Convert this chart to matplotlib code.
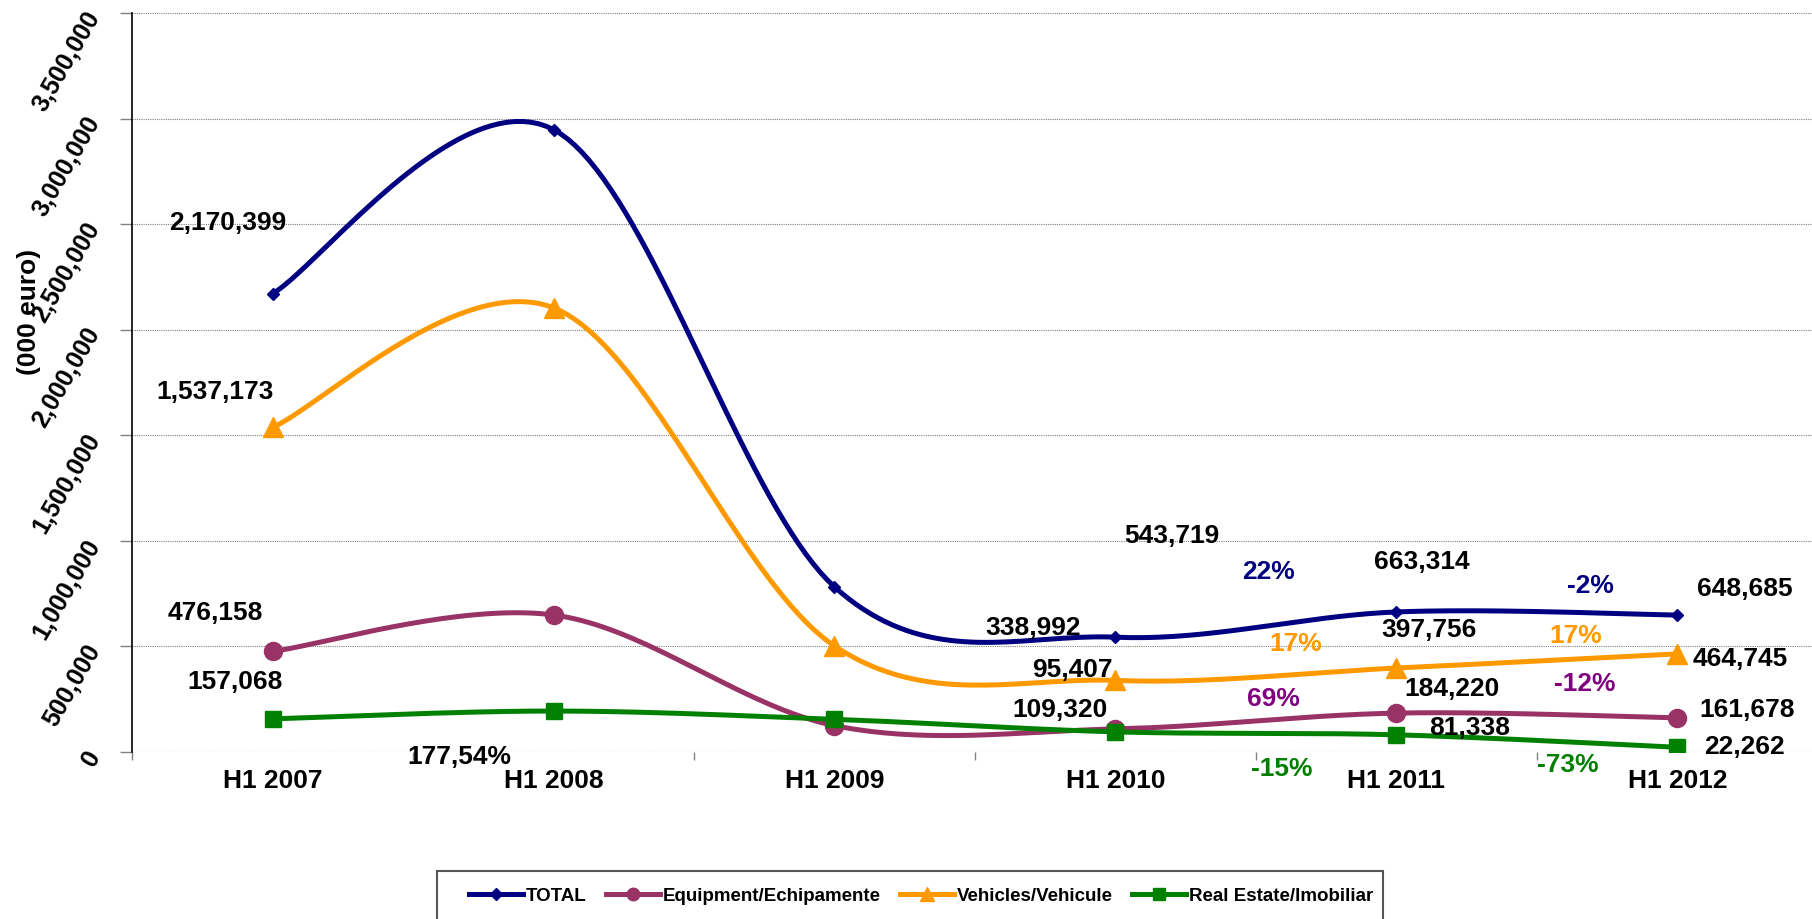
import numpy as np
import matplotlib
matplotlib.use('Agg')
import matplotlib.pyplot as plt
import matplotlib.patches as mpl_patches
from matplotlib.lines import Line2D
from matplotlib.ticker import FuncFormatter, FixedLocator

plt.rcParams['font.family'] = ['Liberation Sans', 'DejaVu Sans']
plt.rcParams['font.weight'] = 'bold'

# ---- data (H1 2008 / H1 2009 have no labels) ----
categories = ['H1 2007', 'H1 2008', 'H1 2009', 'H1 2010', 'H1 2011', 'H1 2012']
total = [2170399, 2948000, 782000, 543719, 663314, 648685]
equipment = [476158, 649000, 125000, 109320, 184220, 161678]
vehicles = [1537173, 2104000, 502000, 338992, 397756, 464745]
real_estate = [157068, 194000, 155000, 95407, 81338, 22262]
series_names = ['TOTAL', 'Equipment/Echipamente', 'Vehicles/Vehicule', 'Real Estate/Imobiliar']
y_ticks = [0, 500000, 1000000, 1500000, 2000000, 2500000, 3000000, 3500000]
labelled_idx = [0, 3, 4, 5]
pct_idx = [4, 5]
extra_note = '177,54%'
y_title = '(000 euro)'

# ---- styling ----
W, H = 1812, 919

SERIES_STYLING = [
    {'color': '#000080', 'marker': 'D', 'markersize': 6},
    {'color': '#993366', 'marker': 'o', 'markersize': 13},
    {'color': '#FF9900', 'marker': '^', 'markersize': 15},
    {'color': '#008000', 'marker': 's', 'markersize': 11},
]
LEGEND_MARKER_SIZE = [6, 9, 10, 9]
PCT_COLORS = ['#000080', '#800080', '#FF9900', '#008000']

LINE_WIDTH = 3.6

GRID_STYLING = {
    'color': '#808080',
    'linestyle': (0, (1, 1)),
    'linewidth': 0.8,
}

LABEL_FONT = {
    'fontsize': 19,
    'fontweight': 'bold',
    'ha': 'center',
    'va': 'center',
    'zorder': 10,
}

LEGEND_FONT = {'family': 'Liberation Sans', 'weight': 'bold', 'size': 13.5}

# legend box in pixels (bottom runs off the picture, as in the reference)
LEGEND_BOX = {'left': 437, 'right': 1383, 'top': 871}
LEGEND_TEXT_Y = 896
LEGEND_INSET = 32

# label centres in data units (category index, value), Excel placed them loosely
VALUE_LABEL_POS = [
    [(-0.16, 2.507e6), (3.199, 1.024e6), (4.089, 0.900e6), (5.238, 0.773e6)],
    [(-0.203, 0.659e6), (2.804, 0.199e6), (4.199, 0.299e6), (5.249, 0.199e6)],
    [(-0.203, 1.706e6), (2.705, 0.585e6), (4.114, 0.578e6), (5.224, 0.441e6)],
    [(-0.132, 0.332e6), (2.847, 0.389e6), (4.260, 0.114e6), (5.238, 0.024e6)],
]
PCT_LABEL_POS = [
    [(3.544, 0.853e6), (4.690, 0.787e6)],
    [(3.562, 0.251e6), (4.669, 0.322e6)],
    [(3.641, 0.512e6), (4.637, 0.550e6)],
    [(3.591, -0.081e6), (4.609, -0.062e6)],
]
NOTE_POS = (0.665, -0.024e6)


def smooth(xs, ys, n=40):
    # Excel-like smoothed line: cubic bezier with catmull-rom control points
    pts = np.column_stack([xs, ys]).astype(float)
    ext = np.vstack([pts[0], pts, pts[-1]])
    t = np.linspace(0, 1, n)[:, None]
    out = []
    for i in range(len(pts) - 1):
        p0, p1, p2, p3 = ext[i], ext[i + 1], ext[i + 2], ext[i + 3]
        c1 = p1 + (p2 - p0) / 6
        c2 = p2 - (p3 - p1) / 6
        seg = (1 - t) ** 3 * p1 + 3 * (1 - t) ** 2 * t * c1 + 3 * (1 - t) * t ** 2 * c2 + t ** 3 * p2
        out.append(seg if i == 0 else seg[1:])
    return np.vstack(out)


fig = plt.figure(figsize=(W / 100, H / 100), dpi=100)
fig.patch.set_facecolor('white')
ax = fig.add_axes([132 / W, 167 / H, 1686 / W, 739 / H])

all_series = [total, equipment, vehicles, real_estate]
x = np.arange(len(categories))

for k, (vals, style) in enumerate(zip(all_series, SERIES_STYLING)):
    curve = smooth(x, vals)
    ax.plot(curve[:, 0], curve[:, 1], color=style['color'], lw=LINE_WIDTH,
            solid_capstyle='round', zorder=3 + k)
    ax.plot(x, vals, linestyle='none', marker=style['marker'],
            markersize=style['markersize'], color=style['color'],
            markeredgecolor=style['color'], zorder=3 + k)

    for idx, (lx, ly) in zip(labelled_idx, VALUE_LABEL_POS[k]):
        ax.text(lx, ly, f'{vals[idx]:,}', color='black', clip_on=False, **LABEL_FONT)

    for idx, (lx, ly) in zip(pct_idx, PCT_LABEL_POS[k]):
        pct = round((vals[idx] / vals[idx - 1] - 1) * 100)
        ax.text(lx, ly, f'{pct:.0f}%', color=PCT_COLORS[k], clip_on=False, **LABEL_FONT)

ax.text(NOTE_POS[0], NOTE_POS[1], extra_note, color='black', clip_on=False, **LABEL_FONT)

ax.set_xlim(-0.5, len(categories) - 0.5)
ax.set_ylim(0, 3500000)

for side in ['top', 'right', 'bottom']:
    ax.spines[side].set_visible(False)
ax.spines['left'].set_color('black')
ax.spines['left'].set_linewidth(1.2)

ax.yaxis.set_major_locator(FixedLocator(y_ticks))
ax.yaxis.set_major_formatter(FuncFormatter(lambda v, _: f'{int(v):,}'))
ax.yaxis.grid(True, **GRID_STYLING)
ax.set_axisbelow(True)
ax.tick_params(axis='y', length=9, width=1, color='#808080', pad=18, labelsize=18)
for lbl in ax.get_yticklabels():
    lbl.set_rotation(60)
    lbl.set_rotation_mode('anchor')
    lbl.set_ha('right')
    lbl.set_va('center')
    lbl.set_fontweight('bold')

ax.set_xticks(x)
ax.set_xticklabels(categories, fontsize=19, fontweight='bold')
ax.set_xticks(np.arange(-0.5, len(categories)), minor=True)
ax.tick_params(axis='x', which='major', length=0, pad=12)
ax.tick_params(axis='x', which='minor', length=6, width=1, color='#808080')

fig.text(29 / W, 1 - 312 / H, y_title, rotation=90, ha='center', va='center',
         fontsize=19, fontweight='bold')

# legend: frame drawn by hand so the inner padding can differ from the font size
box = mpl_patches.Rectangle(
    (LEGEND_BOX['left'] / W, -0.02),
    (LEGEND_BOX['right'] - LEGEND_BOX['left']) / W,
    1 - LEGEND_BOX['top'] / H + 0.02,
    transform=fig.transFigure, fill=False, edgecolor='#555555', linewidth=1.5,
)
fig.patches.append(box)

handles = [
    Line2D([], [], color=s['color'], lw=LINE_WIDTH, marker=s['marker'],
           markersize=ms, markeredgecolor=s['color'])
    for s, ms in zip(SERIES_STYLING, LEGEND_MARKER_SIZE)
]
leg = fig.legend(handles, series_names, loc='center left',
                 bbox_to_anchor=((LEGEND_BOX['left'] + LEGEND_INSET) / W, 1 - LEGEND_TEXT_Y / H),
                 ncol=4, frameon=False, prop=LEGEND_FONT,
                 handlelength=2.9, handletextpad=0.15, columnspacing=1.0,
                 borderpad=0, borderaxespad=0)

fig.savefig('out.png', dpi=100, facecolor='white')
